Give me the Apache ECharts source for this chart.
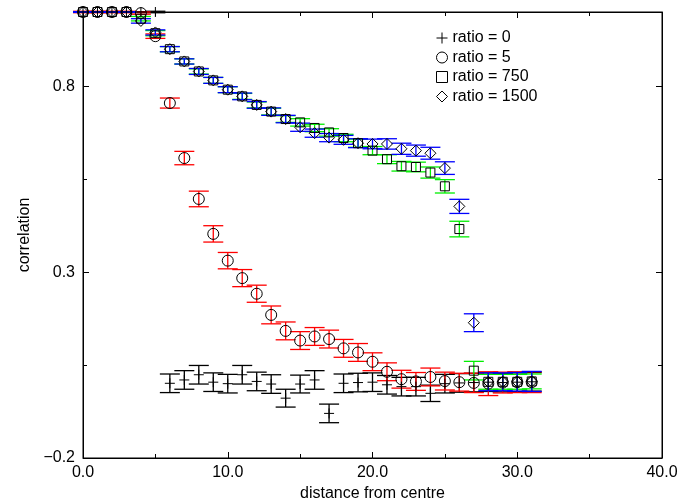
<!DOCTYPE html>
<html><head><meta charset="utf-8">
<script src="https://cdn.jsdelivr.net/npm/echarts@6/dist/echarts.min.js"></script>
<style>html,body{margin:0;padding:0;background:#fff}#c{width:681px;height:503px}</style>
</head><body><div id="c"></div>
<script>
const distance = [0,1,2,3,4,5,6,7,8,9,10,11,12,13,14,15,16,17,18,19,20,21,22,23,24,25,26,27,28,29,30,31];
const xTickLabels = ['0.0','10.0','20.0','30.0','40.0'];
const yTickLabels = ['\u22120.2','0.3','0.8'];

const ratio0 = [1.0,1.0,1.0,1.0,1.0,1.0,0.001,0.010,0.024,0.004,0.000,0.024,0.006,-0.001,-0.039,-0.001,0.010,-0.080,0.001,0.003,0.004,-0.003,-0.008,-0.008,-0.026,0.000,0.002,0.003,0.004,0.003,0.004,0.005];
const ratio0Err = [0.001,0.001,0.001,0.001,0.001,0.002,0.025,0.025,0.025,0.025,0.025,0.025,0.025,0.025,0.024,0.024,0.025,0.025,0.025,0.025,0.025,0.025,0.025,0.025,0.022,0.025,0.025,0.025,0.025,0.025,0.025,0.025];

const ratio5 = [1.0,1.0,1.0,1.0,0.997,0.935,0.755,0.607,0.497,0.403,0.331,0.284,0.242,0.185,0.142,0.116,0.127,0.120,0.095,0.084,0.059,0.032,0.012,0.006,0.018,0.007,0.004,0.002,0.000,0.003,0.004,0.004];
const ratio5Err = [0.002,0.002,0.002,0.002,0.003,0.006,0.0135,0.018,0.021,0.022,0.022,0.023,0.023,0.024,0.024,0.024,0.024,0.024,0.024,0.024,0.024,0.024,0.024,0.024,0.024,0.024,0.024,0.026,0.032,0.028,0.028,0.028];

const ratio750 = [1.0,1.0,1.0,1.0,0.982,0.943,0.900,0.867,0.840,0.816,0.791,0.773,0.750,0.732,0.712,0.703,0.688,0.676,0.661,0.647,0.627,0.604,0.585,0.583,0.568,0.531,0.416,0.035,0.005,0.005,0.005,0.006];
const ratio750Err = [0.001,0.001,0.001,0.001,0.006,0.007,0.007,0.007,0.007,0.008,0.008,0.008,0.008,0.009,0.009,0.010,0.010,0.010,0.010,0.011,0.011,0.012,0.013,0.013,0.015,0.018,0.021,0.025,0.020,0.020,0.020,0.020];

const ratio1500 = [1.0,1.0,1.0,1.0,0.976,0.945,0.900,0.867,0.840,0.816,0.791,0.773,0.750,0.732,0.712,0.690,0.674,0.662,0.656,0.647,0.645,0.645,0.632,0.627,0.620,0.580,0.477,0.164,0.005,0.005,0.005,0.006];
const ratio1500Err = [0.001,0.001,0.001,0.001,0.006,0.007,0.007,0.007,0.008,0.008,0.008,0.009,0.009,0.010,0.010,0.011,0.011,0.011,0.012,0.012,0.013,0.014,0.015,0.015,0.016,0.017,0.019,0.024,0.024,0.024,0.025,0.027];

const seriesNames = ['ratio = 0','ratio = 5','ratio = 750','ratio = 1500'];

const FONT = 'Liberation Sans, Arial, sans-serif';
const FS = 16;
const plusPath = 'path://M0,5L10,5M5,0L5,10';

function errData(vals, errs){
  return distance.map((x,i)=>[x, vals[i]-errs[i], vals[i]+errs[i]]);
}
function errRender(color){
  return function(params, api){
    const x = api.value(0), lo = api.value(1), hi = api.value(2);
    const a = api.coord([x, lo]), b = api.coord([x, hi]);
    const hw = 10;
    const st = {stroke: color, lineWidth: 1.3};
    return {type:'group', children:[
      {type:'line', shape:{x1:a[0],y1:a[1],x2:b[0],y2:b[1]}, style:st},
      {type:'line', shape:{x1:a[0]-hw,y1:a[1],x2:a[0]+hw,y2:a[1]}, style:st},
      {type:'line', shape:{x1:b[0]-hw,y1:b[1],x2:b[0]+hw,y2:b[1]}, style:st}
    ]};
  };
}
function errSeries(vals, errs, color){
  return {type:'custom', renderItem: errRender(color), data: errData(vals, errs),
    encode:{x:0, y:[1,2]}, silent:true, clip:false, xAxisIndex:0, yAxisIndex:0};
}
function markSeries(name, vals, symbol, size){
  return {type:'scatter', name, symbol, symbolSize:size,
    data: distance.map((x,i)=>[x, vals[i]]),
    itemStyle:{color:'rgba(0,0,0,0)', borderColor:'#000', borderWidth:1, opacity:1},
    emphasis:{disabled:true}, xAxisIndex:0, yAxisIndex:0};
}

function xAx(pos, showLabel){
  return {type:'value', position:pos, min:0, max:40, interval:10,
    axisLine:{show:true, onZero:false, lineStyle:{color:'#000'}},
    axisTick:{show:true, inside:true, length:6, lineStyle:{color:'#000'}},
    minorTick:{show:true, splitNumber:2, length:4, lineStyle:{color:'#000'}},
    splitLine:{show:false}, minorSplitLine:{show:false},
    axisLabel:{show:showLabel, color:'#000', fontFamily:FONT, fontSize:FS, margin:7,
      formatter:(v)=>xTickLabels[Math.round(v/10)] },
    name: showLabel ? 'distance from centre' : '', nameLocation:'middle', nameGap:28,
    nameTextStyle:{color:'#000', fontFamily:FONT, fontSize:FS}
  };
}
function yAx(pos, major, showLabel){
  return {type:'value', position:pos, min:-0.2, max:1.0, interval: major?0.5:0.25,
    axisLine:{show:major, onZero:false, lineStyle:{color:'#000'}},
    axisTick:{show:true, inside:true, length: major?6:4, lineStyle:{color:'#000'}},
    splitLine:{show:false},
    axisLabel:{show:showLabel, color:'#000', fontFamily:FONT, fontSize:FS, margin:8, showMaxLabel:false,
      formatter:(v)=>{ const i = Math.round((v+0.2)/0.5); return (Math.abs(v-(-0.2+0.5*i))<1e-6 && i<yTickLabels.length) ? yTickLabels[i] : ''; } },
    name: showLabel ? 'correlation' : '', nameLocation:'middle', nameGap:50,
    nameTextStyle:{color:'#000', fontFamily:FONT, fontSize:FS}
  };
}

const chart = echarts.init(document.getElementById('c'), null, {renderer:'canvas'});
chart.setOption({
  animation:false,
  backgroundColor:'#fff',
  grid:{left:83, right:19, top:12, bottom:45, outerBoundsMode:'none', containLabel:false,
    show:true, borderColor:'#000', borderWidth:1, backgroundColor:'transparent'},
  xAxis:[xAx('bottom', true), xAx('top', false)],
  yAxis:[yAx('left', true, true), yAx('left', false, false), yAx('right', true, false), yAx('right', false, false)],
  legend:{show:true, orient:'vertical', left:431, top:25, padding:5, itemWidth:11, itemHeight:11, itemGap:3.5,
    data: seriesNames,
    itemStyle:{color:'rgba(0,0,0,0)', borderColor:'#000', borderWidth:1},
    textStyle:{color:'#000', fontFamily:FONT, fontSize:FS}},
  series:[
    errSeries(ratio0, ratio0Err, '#000000'),
    markSeries(seriesNames[0], ratio0, plusPath, 10),
    errSeries(ratio5, ratio5Err, '#ff0000'),
    markSeries(seriesNames[1], ratio5, 'circle', 11),
    errSeries(ratio750, ratio750Err, '#00ee00'),
    markSeries(seriesNames[2], ratio750, 'rect', 9),
    errSeries(ratio1500, ratio1500Err, '#0000ff'),
    markSeries(seriesNames[3], ratio1500, 'diamond', 11)
  ]
});
</script></body></html>
